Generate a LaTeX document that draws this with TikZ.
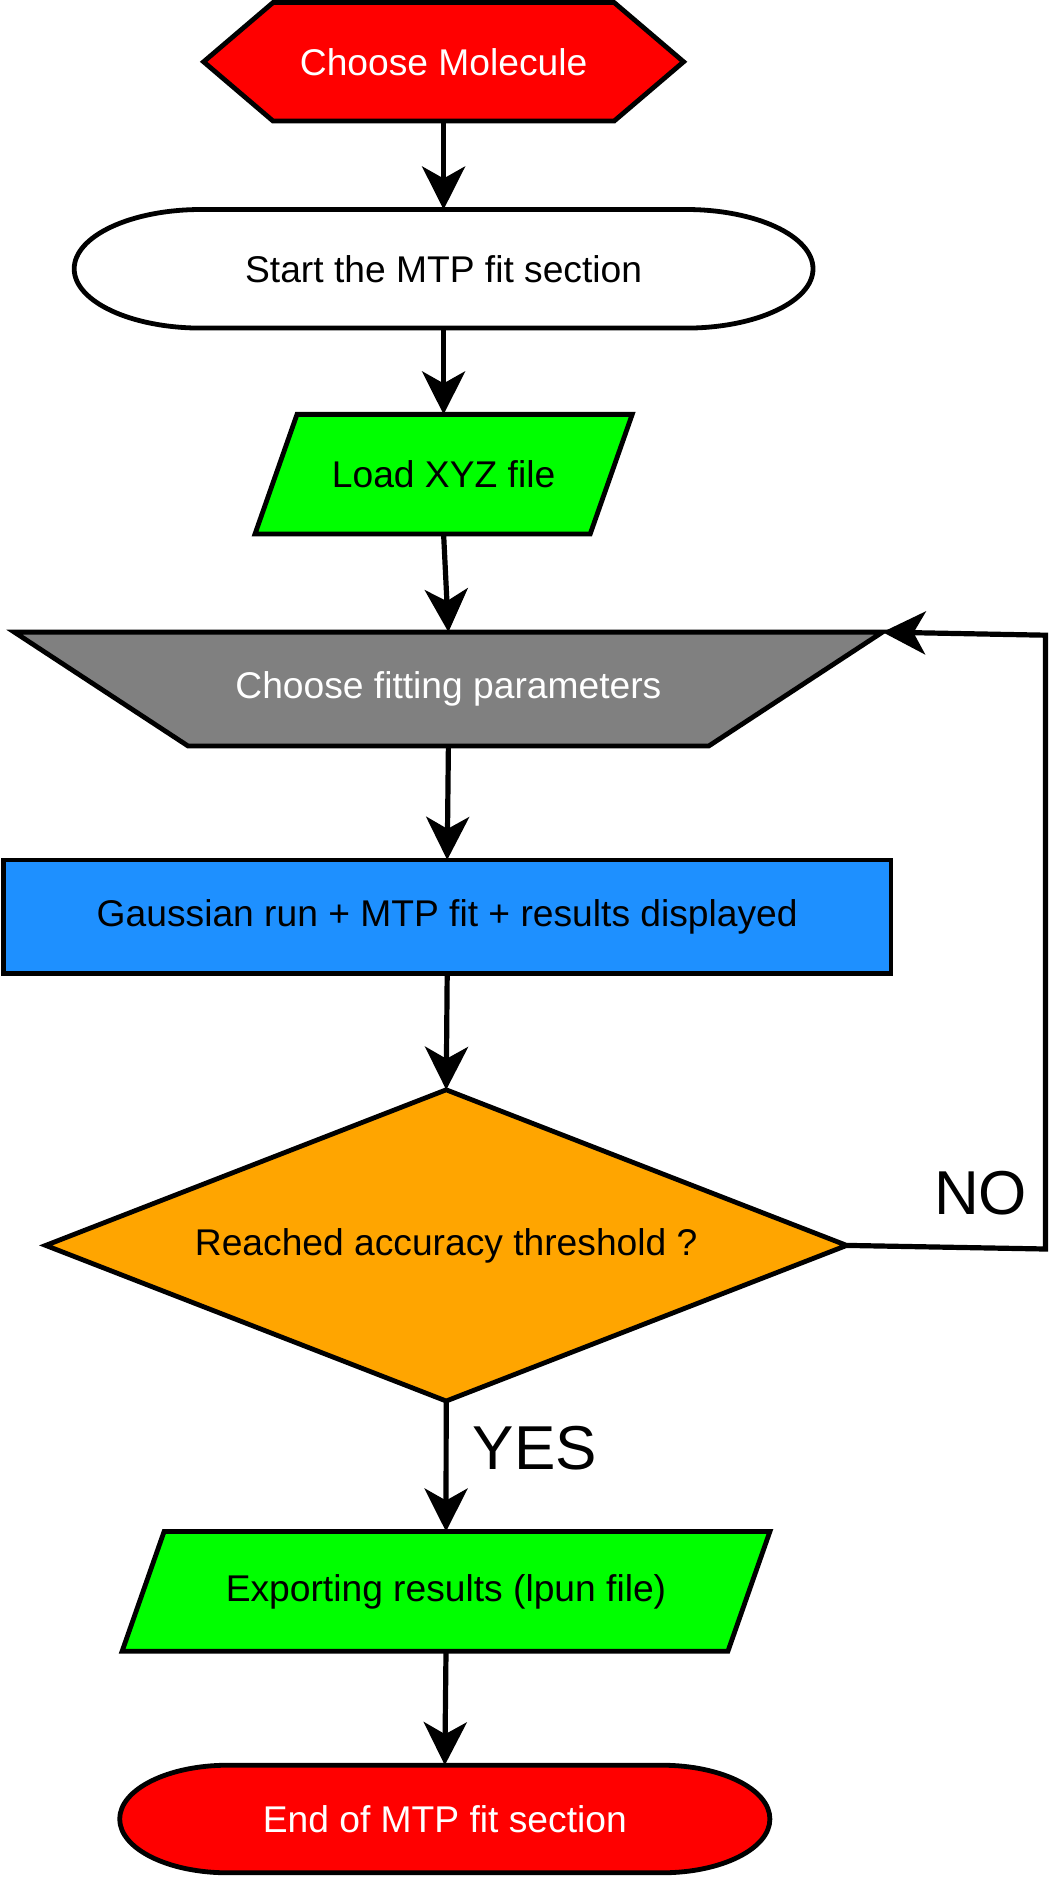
\documentclass[tikz,border=0pt]{standalone}
\usepackage{fontspec}
\setmainfont{Liberation Sans}
\usetikzlibrary{shapes.geometric,arrows.meta,backgrounds}
\definecolor{cred}{HTML}{FF0000}
\definecolor{cgreen}{HTML}{00FF00}
\definecolor{cgrey}{HTML}{808080}
\definecolor{cblue}{HTML}{1E90FF}
\definecolor{corange}{HTML}{FFA500}
\tikzset{
  shapeline/.style={line width=2.4pt, draw=black, line join=miter},
  boxtext/.style={font=\fontsize{18.6}{22}\selectfont, inner sep=0pt, outer sep=0pt},
  plainbox/.style={boxtext, rectangle, draw=none},
  arrowline/.style={line width=2.6pt, draw=black, line join=miter,
     -{Stealth[length=21.5pt,width=21.5pt,inset=6pt]}},
  biglabel/.style={font=\fontsize{31}{36}\selectfont, inner sep=0pt}
}
\begin{document}
\begin{tikzpicture}[x=1pt,y=-1pt]
\useasboundingbox (0,0) rectangle (524.5,938.5);

% nodes
\node[plainbox, text=white, minimum width=240pt, minimum height=59.2pt] (hex) at (221.8,30.9) {Choose Molecule};
\node[plainbox, minimum width=369.4pt, minimum height=59.3pt] (start) at (221.8,134.4) {Start the MTP fit section};
\node[plainbox, minimum width=188.6pt, minimum height=59.8pt] (load) at (221.8,237.1) {Load XYZ file};
\node[plainbox, text=white, minimum width=434.1pt, minimum height=56.9pt] (param) at (224.2,344.5) {Choose fitting parameters};
\node[boxtext, shapeline, rectangle, fill=cblue, minimum width=443.7pt, minimum height=56.9pt] (run) at (223.6,458.4) {Gaussian run + MTP fit + results displayed};
\node[boxtext, shapeline, diamond, fill=corange, aspect=2.574, minimum width=400.5pt, minimum height=155.6pt] (dec) at (223.1,622.7) {Reached accuracy threshold ?};
\node[plainbox, minimum width=323.9pt, minimum height=59.9pt] (export) at (223.0,795.7) {Exporting results (lpun file)};
\node[plainbox, text=white, minimum width=325.1pt, minimum height=53.8pt] (end) at (222.4,909.5) {End of MTP fit section};

\node[biglabel] (no) at (490.3,596.5) {NO};
\node[biglabel] (yes) at (267.5,724) {YES};

% custom outlines on background
\begin{scope}[on background layer]
\draw[shapeline, fill=cred] (hex.west) -- ([xshift=34.7pt]hex.north west) -- ([xshift=-34.7pt]hex.north east)
  -- (hex.east) -- ([xshift=-34.7pt]hex.south east) -- ([xshift=34.7pt]hex.south west) -- cycle;
\draw[shapeline, fill=white] ([xshift=63.5pt]start.north west) -- ([xshift=-63.5pt]start.north east)
  arc[start angle=90, end angle=-90, x radius=63.5pt, y radius=29.65pt]
  -- ([xshift=63.5pt]start.south west)
  arc[start angle=270, end angle=90, x radius=63.5pt, y radius=29.65pt] -- cycle;
\draw[shapeline, fill=cgreen] (load.south west) -- ([xshift=21pt]load.north west) -- (load.north east)
  -- ([xshift=-21pt]load.south east) -- cycle;
\draw[shapeline, fill=cgrey] (param.north west) -- (param.north east)
  -- ([xshift=-86.8pt]param.south east) -- ([xshift=86.8pt]param.south west) -- cycle;
\draw[shapeline, fill=cgreen] (export.south west) -- ([xshift=21pt]export.north west) -- (export.north east)
  -- ([xshift=-21pt]export.south east) -- cycle;
\draw[shapeline, fill=cred] ([xshift=54pt]end.north west) -- ([xshift=-54pt]end.north east)
  arc[start angle=90, end angle=-90, x radius=54pt, y radius=26.9pt]
  -- ([xshift=54pt]end.south west)
  arc[start angle=270, end angle=90, x radius=54pt, y radius=26.9pt] -- cycle;
\end{scope}

% connectors
\coordinate (loopA) at (522.7,624.5);
\coordinate (loopB) at (522.7,317.6);
\draw[arrowline] (hex.south) -- (start.north);
\draw[arrowline] (start.south) -- (load.north);
\draw[arrowline] (load.south) -- (param.north);
\draw[arrowline] (param.south) -- (run.north);
\draw[arrowline] (run.south) -- (dec.north);
\draw[arrowline] (dec.south) -- (export.north);
\draw[arrowline] (export.south) -- (end.north);
\draw[arrowline] (dec.east) -- (loopA) -- (loopB) -- (param.north east);
\end{tikzpicture}
\end{document}
